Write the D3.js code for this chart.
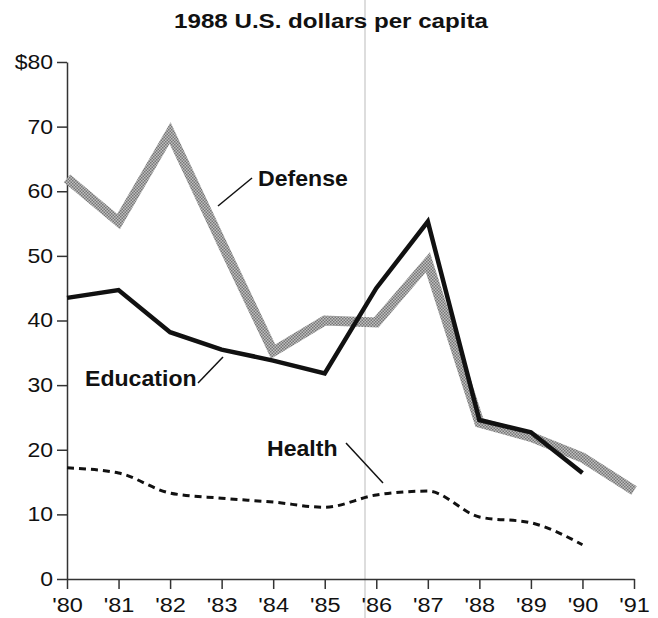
<!DOCTYPE html>
<html lang="en">
<head>
  <meta charset="UTF-8">
  <title>1988 U.S. dollars per capita</title>
  <style>
    body { margin: 0; background: #fff; }
    svg { display: block; }
    text { font-family: "Liberation Sans", Arial, Helvetica, sans-serif; fill: #111; }
  </style>
</head>
<body>
  <script src="https://d3js.org/d3.v7.min.js"></script>
  <script>
    // data
    const years = [1980, 1981, 1982, 1983, 1984, 1985, 1986, 1987, 1988, 1989, 1990, 1991];
    const defense = [62, 55.3, 69, 52, 35.2, 40, 39.7, 49, 24.2, 22, 18.8, 13.7];
    const education = [43.5, 44.7, 38.2, 35.5, 33.8, 31.8, 45, 55.3, 24.6, 22.7, 16.4, null];
    const health = [17.2, 16.4, 13.3, 12.5, 11.9, 11.1, 13, 13.6, 9.6, 8.7, 5.3, null];
    const yTicks = [0, 10, 20, 30, 40, 50, 60, 70, 80];
    const yearLabels = ["'80", "'81", "'82", "'83", "'84", "'85", "'86", "'87", "'88", "'89", "'90", "'91"];

    const width = 658, height = 618;
    const svg = d3.select('body').append('svg')
      .attr('width', width)
      .attr('height', height);

    // halftone texture for the grey defense line
    const pat = svg.append('defs').append('pattern')
      .attr('id', 'halftone')
      .attr('width', 3).attr('height', 3)
      .attr('patternUnits', 'userSpaceOnUse');
    pat.append('rect').attr('width', 3).attr('height', 3).attr('fill', '#c0c0c0');
    pat.append('rect').attr('width', 1.5).attr('height', 1.5).attr('fill', '#767676');
    pat.append('rect').attr('x', 1.5).attr('y', 1.5).attr('width', 1.5).attr('height', 1.5).attr('fill', '#767676');

    // book gutter line from the scan
    svg.append('line')
      .attr('x1', 365).attr('x2', 365)
      .attr('y1', 0).attr('y2', height)
      .attr('stroke', '#d2d2d2').attr('stroke-width', 1.5);

    const x = d3.scaleLinear().domain([1980, 1991]).range([67, 634]);
    const y = d3.scaleLinear().domain([0, 80]).range([579, 62]);

    // the printed type is a little wider than Liberation Sans, so stretch it
    svg.append('text')
      .attr('transform', 'translate(331,28) scale(1.15,1)')
      .attr('text-anchor', 'middle')
      .style('font-size', '21px').style('font-weight', 'bold')
      .text('1988 U.S. dollars per capita');

    const yAxis = svg.append('g')
      .attr('transform', `translate(${x(1980)},0)`)
      .call(d3.axisLeft(y).tickValues(yTicks).tickSize(10).tickSizeOuter(0)
        .tickFormat(d => d === 80 ? '$80' : d));
    const xAxis = svg.append('g')
      .attr('transform', `translate(0,${y(0)})`)
      .call(d3.axisBottom(x).tickValues(years).tickSize(10).tickSizeOuter(0)
        .tickFormat((d, i) => yearLabels[i]));

    [yAxis, xAxis].forEach(g => {
      g.selectAll('path, line').attr('stroke', '#333').attr('stroke-width', 1.5);
      g.selectAll('text').attr('fill', '#111');
    });
    yAxis.selectAll('text')
      .style('font-size', '20px')
      .attr('x', 0)
      .attr('transform', 'translate(-14,0) scale(1.15,1)');
    xAxis.selectAll('text')
      .style('font-size', '21px')
      .attr('y', 0).attr('dy', 0)
      .attr('transform', 'translate(0,33) scale(1.12,1)');

    const line = d3.line()
      .defined(d => d[1] != null)
      .x(d => x(d[0]))
      .y(d => y(d[1]));

    const zip = vals => years.map((yr, i) => [yr, vals[i]]);

    svg.append('path')
      .attr('d', line(zip(defense)))
      .attr('fill', 'none')
      .attr('stroke', 'url(#halftone)')
      .attr('stroke-width', 10)
      .attr('stroke-linejoin', 'miter');

    svg.append('path')
      .attr('d', line(zip(education)))
      .attr('fill', 'none')
      .attr('stroke', '#111')
      .attr('stroke-width', 4.5)
      .attr('stroke-linejoin', 'miter');

    svg.append('path')
      .attr('d', line.curve(d3.curveMonotoneX)(zip(health)))
      .attr('fill', 'none')
      .attr('stroke', '#111')
      .attr('stroke-width', 3)
      .attr('stroke-dasharray', '7,5');

    // series labels with leader lines
    const labels = [
      { text: 'Defense', x: 258, y: 186, lx1: 252, ly1: 178, lx2: 218, ly2: 206 },
      { text: 'Education', x: 85, y: 386, lx1: 198, ly1: 383, lx2: 223, ly2: 357 },
      { text: 'Health', x: 267, y: 456, lx1: 346, ly1: 443, lx2: 383, ly2: 483 }
    ];
    labels.forEach(l => {
      svg.append('text')
        .attr('transform', `translate(${l.x},${l.y}) scale(1.05,1)`)
        .style('font-size', '22px').style('font-weight', 'bold')
        .text(l.text);
      svg.append('line')
        .attr('x1', l.lx1).attr('y1', l.ly1)
        .attr('x2', l.lx2).attr('y2', l.ly2)
        .attr('stroke', '#111').attr('stroke-width', 1.5);
    });
  </script>
</body>
</html>
